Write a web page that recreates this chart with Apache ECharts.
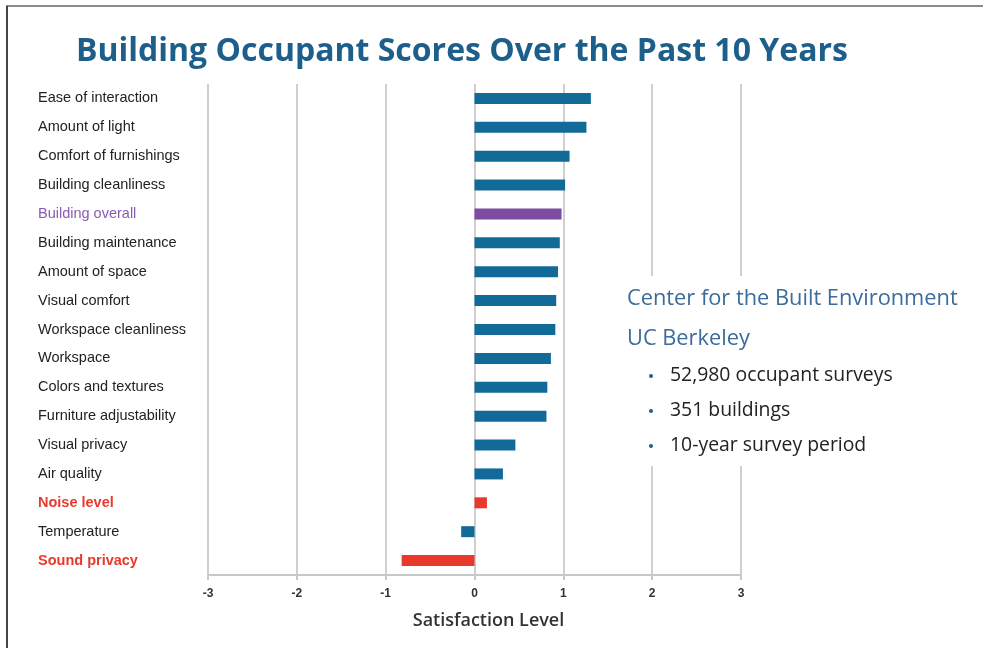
<!DOCTYPE html>
<html>
<head>
<meta charset="utf-8">
<title>Building Occupant Scores</title>
<script src="https://cdn.jsdelivr.net/npm/echarts@6/dist/echarts.min.js"></script>
<style>
  html, body { margin: 0; padding: 0; background: #fff; }
  #chart { width: 983px; height: 648px; }
</style>
</head>
<body>
<div id="chart"></div>
<script>
// survey categories, top to bottom
const categories = [
  'Ease of interaction', 'Amount of light', 'Comfort of furnishings',
  'Building cleanliness', 'Building overall', 'Building maintenance',
  'Amount of space', 'Visual comfort', 'Workspace cleanliness', 'Workspace',
  'Colors and textures', 'Furniture adjustability', 'Visual privacy',
  'Air quality', 'Noise level', 'Temperature', 'Sound privacy'
];
const scores = [
  1.31, 1.26, 1.07, 1.02, 0.98, 0.96, 0.94, 0.92, 0.91, 0.86,
  0.82, 0.81, 0.46, 0.32, 0.14, -0.15, -0.82
];
const xTicks = [-3, -2, -1, 0, 1, 2, 3];
const overallItems = ['Building overall'];
const acousticItems = ['Noise level', 'Sound privacy'];
const sourceLines = ['Center for the Built Environment', 'UC Berkeley'];
const bulletLines = ['52,980 occupant surveys', '351 buildings', '10-year survey period'];

const BLUE = '#116a98', PURPLE = '#7d4b9f', RED = '#e8392b';

function barColor(name) {
  if (overallItems.includes(name)) return PURPLE;
  if (acousticItems.includes(name)) return RED;
  return BLUE;
}

const chart = echarts.init(document.getElementById('chart'));

let graphics = [
  // frame
  { type: 'line', shape: { x1: 6, y1: 6, x2: 983, y2: 6 }, style: { stroke: '#8c8c8c', lineWidth: 2 } },
  { type: 'line', shape: { x1: 7, y1: 6, x2: 7, y2: 648 }, style: { stroke: '#444', lineWidth: 2 } },
  // white panel behind the note, hides the grid lines
  { type: 'rect', shape: { x: 612, y: 276, width: 364, height: 190 }, style: { fill: '#fff' }, z: 10 }
];
sourceLines.forEach((t, i) => {
  graphics.push({
    type: 'text', z: 11, x: 627, y: 299 + i * 40,
    style: { text: t, fill: '#3b6c9c', font: '21.8px "Open Sans"', verticalAlign: 'middle' }
  });
});
bulletLines.forEach((t, i) => {
  graphics.push({
    type: 'circle', z: 11, shape: { cx: 651, cy: 376 + i * 35, r: 2 }, style: { fill: '#1d5f8a' }
  });
  graphics.push({
    type: 'text', z: 11, x: 670, y: 375 + i * 35,
    style: { text: t, fill: '#222', font: '19.4px "Open Sans"', verticalAlign: 'middle' }
  });
});

chart.setOption({
  animation: false,
  title: {
    text: 'Building Occupant Scores Over the Past 10 Years',
    left: 71, top: 31,
    textStyle: { color: '#1d5f8a', fontSize: 32, fontWeight: 'bold', fontFamily: 'Open Sans' }
  },
  grid: { left: 208, right: 242, top: 84, bottom: 73 },
  xAxis: {
    type: 'value', min: xTicks[0], max: xTicks[xTicks.length - 1], interval: 1,
    name: 'Satisfaction Level', nameLocation: 'middle', nameGap: 37,
    nameTextStyle: { color: '#333', fontSize: 18, fontFamily: 'Open Sans', fontWeight: 600, padding: [0, 0, 0, 28] },
    axisLine: { show: true, lineStyle: { color: '#c8c8c8', width: 2 } },
    axisTick: { show: true, length: 5, lineStyle: { color: '#c8c8c8', width: 2 } },
    axisLabel: { color: '#333', fontSize: 12, fontWeight: 'bold', fontFamily: 'Liberation Sans', margin: 13 },
    splitLine: { show: true, lineStyle: { color: '#cfcfcf', width: 2 } }
  },
  yAxis: {
    type: 'category', data: categories, inverse: true,
    axisLine: { show: false }, axisTick: { show: false },
    axisLabel: {
      align: 'left', margin: 170,
      formatter: v => overallItems.includes(v) ? '{p|' + v + '}' : acousticItems.includes(v) ? '{r|' + v + '}' : '{n|' + v + '}',
      rich: {
        n: { color: '#222', fontSize: 14.5, fontFamily: 'Liberation Sans' },
        p: { color: '#8a5bb5', fontSize: 14.5, fontFamily: 'Liberation Sans' },
        r: { color: RED, fontSize: 14.5, fontWeight: 'bold', fontFamily: 'Liberation Sans' }
      }
    }
  },
  series: [{
    type: 'bar', barWidth: 11,
    data: scores,
    itemStyle: { color: p => barColor(categories[p.dataIndex]) }
  }],
  graphic: graphics
});
</script>
</body>
</html>
